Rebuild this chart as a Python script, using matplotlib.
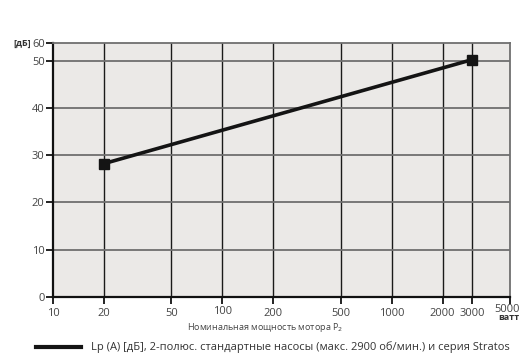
import matplotlib.pyplot as plt
from matplotlib.transforms import ScaledTranslation
import numpy as np

# data
power_w = [20, 3000]
noise_db = [28.2, 50.2]

x_ticks = [10, 20, 50, 100, 200, 500, 1000, 2000, 3000, 5000]
x_tick_labels = ['10', '20', '50', '100', '200', '500', '1000', '2000', '3000', '5000']
y_ticks = [0, 10, 20, 30, 40, 50]
y_top = 53.7  # the "60" label sits at the top edge of the frame
y_tick_labels = ['0', '10', '20', '30', '40', '50', '60']

legend_text = 'Lp (A) [дБ], 2-полюс. стандартные насосы (макс. 2900 об/мин.) и серия Stratos'
x_label = 'Номинальная мощность мотора P$_2$'

plt.rcParams['font.family'] = ['Open Sans', 'DejaVu Sans']

fig = plt.figure(figsize=(5.2, 3.54), dpi=100)
ax = fig.add_axes([53 / 520, 1 - 297 / 354, (510 - 53) / 520, (297 - 43) / 354])
ax.set_facecolor('#ebe9e7')

ax.set_xscale('log')
ax.set_xlim(10, 5000)
ax.set_ylim(0, y_top)

ax.set_xticks(x_ticks)
ax.set_xticklabels(x_tick_labels)
ax.xaxis.set_minor_locator(plt.NullLocator())
ax.set_yticks(y_ticks + [y_top])
ax.set_yticklabels(y_tick_labels)

# grid
for x in x_ticks[1:-1]:
    ax.axvline(x, color='#1a1a1a', lw=1.0, zorder=1)
for y in y_ticks[1:]:
    ax.axhline(y, color='#6f6f6f', lw=1.3, zorder=1)

ax.plot(power_w, noise_db, color='#141414', lw=2.6, marker='s', markersize=6.5,
        zorder=3, solid_capstyle='butt')

for side in ['left', 'bottom']:
    ax.spines[side].set_color('#111111')
    ax.spines[side].set_linewidth(1.6)
for side in ['top', 'right']:
    ax.spines[side].set_color('#6f6f6f')
    ax.spines[side].set_linewidth(1.3)

ax.tick_params(axis='both', colors='#111111', labelcolor='#444444', labelsize=8,
               length=5, width=1.3)
ax.tick_params(axis='x', pad=3)
ax.tick_params(axis='y', pad=1, length=5)

# the 5000 label sits a bit higher, above the unit, flush with the right edge
ticks = ax.xaxis.get_major_ticks()
ticks[-1].set_pad(0)
ticks[3].set_pad(1.5)
lab = ticks[-1].label1
lab.set_horizontalalignment('right')
lab.set_transform(lab.get_transform() + ScaledTranslation(9.5 / 100, 0, fig.dpi_scale_trans))

fig.text(31 / 520, 1 - 43 / 354, '[дБ]', fontsize=6.5, fontweight='bold',
         color='#333333', ha='right', va='center')
fig.text(519 / 520, 1 - 318 / 354, 'ватт', fontsize=6.5, fontweight='bold',
         color='#333333', ha='right', va='center')
fig.text(265 / 520, 1 - 328 / 354, x_label, fontsize=6.5, color='#444444',
         ha='center', va='center')

# legend row
fig.add_artist(plt.Line2D([36 / 520, 81 / 520], [1 - 347 / 354, 1 - 347 / 354],
                          color='#141414', lw=3.0, transform=fig.transFigure))
fig.text(91 / 520, 1 - 347 / 354, legend_text, fontsize=8.0, color='#333333',
         ha='left', va='center')

fig.savefig('out.png', dpi=100)
